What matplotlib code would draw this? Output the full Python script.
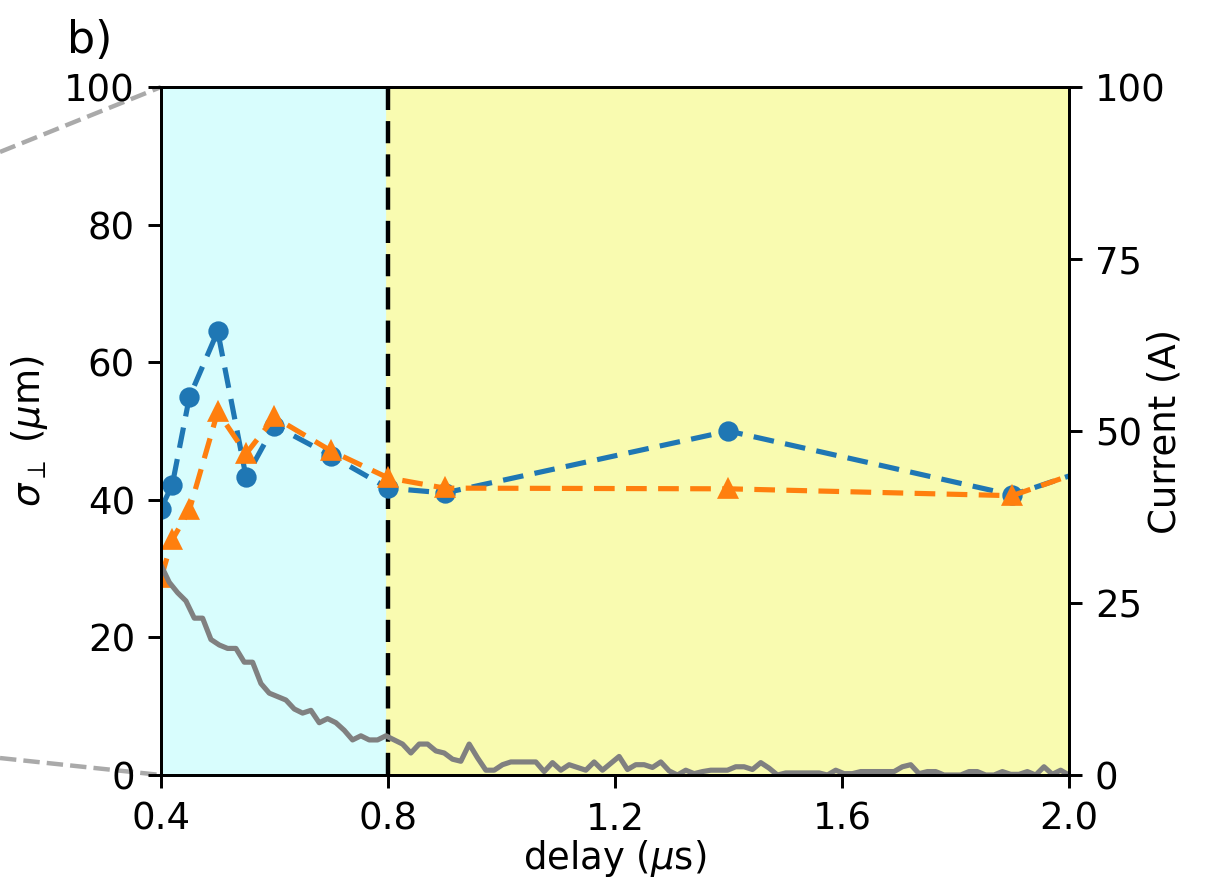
import numpy as np
import matplotlib
matplotlib.use("Agg")
import matplotlib.pyplot as plt
from matplotlib.lines import Line2D

# beam size vs delay (um)
delay = [0.40, 0.42, 0.45, 0.50, 0.55, 0.60, 0.70, 0.80, 0.90, 1.40, 1.90, 2.40]
sigma_blue = [38.7, 42.2, 54.9, 64.5, 43.3, 50.8, 46.4, 41.7, 41.0, 50.0, 40.7, 54.5]
sigma_orange = [28.6, 34.2, 38.5, 52.8, 46.7, 52.0, 47.1, 43.2, 41.7, 41.6, 40.6, 55.0]

# discharge current trace (A), sampled evenly from 0.4 to 2.0 us
current = [
    30.5, 28.0, 26.5, 25.3, 22.8, 22.8, 19.7, 18.9, 18.4, 18.4,
    16.4, 16.4, 13.3, 11.9, 11.4, 10.9, 9.6, 9.0, 9.4, 7.6,
    8.2, 7.6, 6.5, 5.1, 5.7, 5.1, 5.1, 5.7, 5.1, 4.5,
    3.2, 4.5, 4.5, 3.5, 3.2, 2.3, 2.0, 4.5, 2.5, 0.7,
    0.7, 1.5, 1.9, 1.9, 1.9, 1.9, 0.5, 1.8, 0.7, 1.5,
    1.1, 0.7, 1.9, 0.7, 1.7, 2.7, 0.8, 1.5, 1.5, 1.1,
    1.9, 0.6, 0.0, 0.7, 0.2, 0.5, 0.7, 0.7, 0.7, 1.2,
    1.2, 0.8, 1.8, 1.0, 0.0, 0.3, 0.3, 0.3, 0.3, 0.3,
    0.0, 0.7, 0.2, 0.2, 0.5, 0.5, 0.5, 0.5, 0.5, 1.2,
    1.5, 0.2, 0.5, 0.5, 0.0, 0.0, 0.0, 0.5, 0.5, 0.0,
    0.0, 0.5, 0.1, 0.1, 0.5, 0.0, 1.2, 0.1, 0.7, 0.0,
]
current_time = np.linspace(0.4, 2.0, len(current))

xticks = [0.4, 0.8, 1.2, 1.6, 2.0]
left_ticks = [0, 20, 40, 60, 80, 100]
right_ticks = [0, 25, 50, 75, 100]

DPI = 266
fig = plt.figure(figsize=(1212 / DPI, 880 / DPI), dpi=DPI)
ax = fig.add_axes([0.1328, 0.1193, 0.7492, 0.7818])

ax.axvspan(0.4, 0.8, color="#d8fdfd", zorder=0)
ax.axvspan(0.8, 2.0, color="#f9fbb0", zorder=0)
ax.axvline(0.8, color="k", ls=(0, (5, 2.5)), lw=1.2)

ax.plot(delay, sigma_blue, "o", ls=(0, (4, 2.2)), color="#1f77b4", lw=1.4, ms=4.5)
ax.plot(delay, sigma_orange, "^", ls=(0, (4, 2.2)), color="#ff7f0e", lw=1.4, ms=4.5)

ax.set_xlim(0.4, 2.0)
ax.set_ylim(0, 100)
ax.set_xticks(xticks)
ax.set_xticklabels([f"{t:.1f}" for t in xticks])
ax.set_yticks(left_ticks)
ax.set_xlabel(r"delay ($\mu$s)", labelpad=0)
ax.set_ylabel(r"$\sigma_\perp$ ($\mu$m)")

ax2 = ax.twinx()
ax2.plot(current_time, current, color="gray", lw=1.4)
ax2.set_ylim(0, 100)
ax2.set_yticks(right_ticks)
ax2.set_ylabel("Current (A)")
ax2.yaxis.set_label_coords(1.085, 0.5)

# connector lines towards the inset frame of panel a)
fig.add_artist(Line2D([0.0, 0.1328], [0.8273, 0.9011], transform=fig.transFigure,
                      color="#aaaaaa", ls="--", lw=1.2, zorder=0))
fig.add_artist(Line2D([0.0, 0.1328], [0.1386, 0.1193], transform=fig.transFigure,
                      color="#aaaaaa", ls="--", lw=1.2, zorder=0))

fig.text(0.055, 0.94, "b)", fontsize=12)

fig.savefig("out.png", dpi=DPI)
